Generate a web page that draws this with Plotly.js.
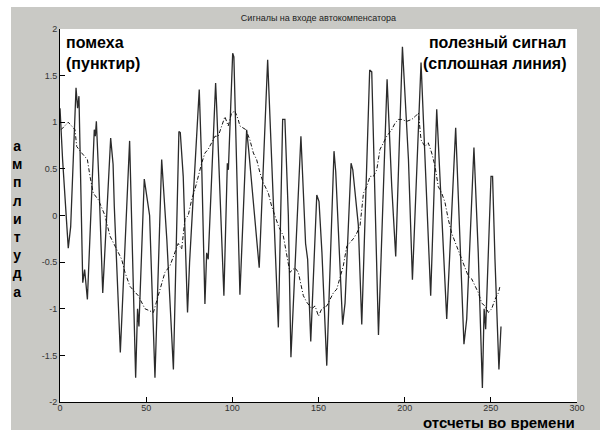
<!DOCTYPE html>
<html>
<head>
<meta charset="utf-8">
<script src="https://cdn.plot.ly/plotly-3.0.1.min.js"></script>
<style>
  html, body { margin: 0; padding: 0; background: #ffffff; width: 600px; height: 430px; overflow: hidden; }
  #chart { position: absolute; left: 11px; top: 7px; width: 589px; height: 423px; }
</style>
</head>
<body>
<div id="chart"></div>
<script>
// Полезный сигнал (сплошная линия): отсчёт и амплитуда
const signalX = [0, 1.5, 4.8, 6.2, 9.3, 10.2, 11, 13.2, 14.3, 15.9, 19.9, 20.5, 21.1, 22.5, 24.8, 29.4, 30.8, 31.5, 35, 40.4, 43.9, 45, 45.8, 48.9, 52, 55.1, 59, 62, 65.8, 69, 69.8, 71.5, 74, 75.2, 80.8, 82.2, 84.1, 85.1, 86, 90.3, 90.9, 95.1, 97.1, 97.7, 100.2, 100.9, 104.4, 108.3, 109.5, 115.6, 120.5, 126.7, 129.2, 130.5, 132.5, 134, 139.8, 142.5, 143.7, 145.5, 149, 150.3, 152, 154.8, 159, 160, 164, 165.4, 168.9, 169.9, 173.1, 175.1, 179.7, 180.9, 184.8, 189.8, 192.5, 194.8, 198.7, 202.2, 204.5, 209.5, 215.1, 218.6, 224.4, 229.6, 234.4, 236, 240.2, 242.7, 245.1, 246.1, 247, 250.1, 251, 252.4, 254.7, 255.9];
const signalY = [1.15, 0.6, -0.35, -0.12, 1.37, 1.15, 1.28, -0.72, -0.58, -0.9, 0.92, 0.85, 1.01, 0.4, -0.83, 0.83, 0.55, 0.1, -1.47, 0.8, -1.74, -1.0, -1.19, 0.39, 0.0, -1.74, 0.6, -0.26, -1.65, 0.9, 0.89, 0.42, -1.04, -0.5, 1.35, 0.56, -0.95, -0.4, -0.47, 1.42, 1.17, -0.86, 0.56, 0.49, 1.74, 1.7, -0.85, 0.92, 0.7, -0.56, 1.67, -1.2, 1.03, 1.03, 0.0, -1.52, 0.85, -0.3, -0.47, -1.35, 0.22, 0.15, -0.4, -1.61, 0.69, 0.47, -1.17, -0.94, 0.56, 0.49, -0.1, -1.17, 1.56, 1.54, -1.28, 1.46, 0.31, -0.44, 1.81, 0.6, -0.69, 1.64, -0.86, 1.14, -1.11, 0.94, -1.38, -1.11, 0.73, -0.4, -1.85, -1.0, -1.22, 0.42, 0.42, -0.47, -1.65, -1.19];

// Помеха (пунктир)
const noiseX = [0.6, 4.8, 8.7, 9.7, 12.6, 15.9, 17.4, 19.3, 22.2, 26.1, 29, 31.9, 35.8, 37.7, 40.6, 45.4, 49.3, 54.2, 57.1, 60.9, 63.8, 66.7, 68.6, 70.6, 72.5, 74.4, 76.4, 78.3, 80.2, 82.2, 84.1, 86, 88, 89.9, 91.8, 93.8, 95.7, 97.6, 99.6, 101.5, 103.4, 104.4, 107.9, 110.2, 112.2, 114.1, 116, 118, 120.9, 122.8, 124.7, 126.7, 129.6, 131.5, 133.4, 136.3, 138.3, 141.2, 143.2, 146.1, 148, 150, 151.9, 154.8, 156.7, 158.6, 160.6, 162.5, 164.4, 166.4, 168.3, 170.2, 172.2, 174.1, 176.1, 178, 179.9, 181.9, 183.8, 185.7, 187.7, 189.6, 192.5, 194.4, 196.4, 198.3, 201.2, 204.1, 206, 208, 209.5, 211.8, 213.7, 215.7, 217.6, 219.5, 221.5, 223.4, 225.3, 227.3, 230.2, 233.1, 235, 236.9, 238.9, 240.8, 242.8, 244.7, 246.6, 248.6, 250.5, 252.4, 254.4, 255.3];
const noiseY = [0.92, 1.0, 0.92, 0.74, 0.67, 0.6, 0.42, 0.24, 0.17, 0.0, -0.22, -0.33, -0.47, -0.61, -0.76, -0.86, -1.0, -1.04, -0.86, -0.61, -0.54, -0.4, -0.3, -0.36, -0.04, 0.0, 0.17, 0.28, 0.42, 0.56, 0.67, 0.71, 0.78, 0.85, 0.85, 0.96, 1.06, 0.96, 1.1, 1.12, 1.03, 0.96, 0.92, 0.81, 0.67, 0.6, 0.46, 0.35, 0.24, 0.1, 0.0, -0.11, -0.22, -0.4, -0.61, -0.56, -0.61, -0.86, -0.93, -1.0, -0.97, -1.08, -1.0, -0.97, -0.9, -0.83, -0.79, -0.65, -0.54, -0.33, -0.29, -0.25, -0.19, -0.11, 0.24, 0.31, 0.42, 0.42, 0.49, 0.71, 0.78, 0.85, 0.92, 0.99, 1.03, 1.03, 1.01, 1.03, 1.06, 1.1, 0.81, 0.74, 0.78, 0.67, 0.53, 0.31, 0.24, 0.14, -0.04, -0.19, -0.33, -0.47, -0.54, -0.65, -0.68, -0.76, -0.83, -0.94, -0.97, -1.04, -1.0, -0.9, -0.83, -0.76];

const xTickVals = [0, 50, 100, 150, 200, 250, 300];
const xTickText = ["0", "50", "100", "150", "200", "250", "300"];
const yTickVals = [-2, -1.5, -1, -0.5, 0, 0.5, 1, 1.5, 2];
const yTickText = ["-2", "-1.5", "-1", "-0.5", "0", "0.5", "1", "1.5", "2"];

const titleText = "Сигналы на входе автокомпенсатора";
const noiseLabel = "помеха<br>(пунктир)";
const signalLabel = "полезный сигнал<br>(сплошная линия)";
const yLabelWord = "амплитуда";
const xLabelText = "отсчеты во времени";

const FONT = "Arial, 'Liberation Sans', sans-serif";

const traces = [
  {
    x: signalX, y: signalY, type: "scatter", mode: "lines",
    line: { color: "#2b2b2b", width: 1.3 },
    hoverinfo: "skip", showlegend: false
  },
  {
    x: noiseX, y: noiseY, type: "scatter", mode: "lines",
    line: { color: "#111111", width: 1, dash: "4px,2px,1px,2px" },
    hoverinfo: "skip", showlegend: false
  }
];

const layout = {
  width: 589, height: 423,
  margin: { l: 49, r: 23, t: 22, b: 28 },
  paper_bgcolor: "#c9c9c5",
  plot_bgcolor: "#ffffff",
  showlegend: false,
  title: {
    text: titleText,
    font: { family: FONT, size: 9, color: "#222222" },
    x: 0.5, xref: "paper", xanchor: "center",
    y: 1 - 11 / 423, yref: "container", yanchor: "middle"
  },
  xaxis: {
    range: [0, 300], tickmode: "array", tickvals: xTickVals, ticktext: xTickText,
    ticks: "inside", ticklen: 5, tickcolor: "#000000", tickwidth: 1,
    ticklabelstandoff: -3,
    showline: true, linecolor: "#000000", linewidth: 1, mirror: false,
    showgrid: false, zeroline: false,
    tickfont: { family: FONT, size: 9, color: "#333333" }
  },
  yaxis: {
    range: [-2, 2], tickmode: "array", tickvals: yTickVals, ticktext: yTickText,
    ticks: "inside", ticklen: 5, tickcolor: "#000000", tickwidth: 1,
    showline: true, linecolor: "#000000", linewidth: 1, mirror: false,
    showgrid: false, zeroline: false,
    tickfont: { family: FONT, size: 9, color: "#333333" }
  },
  annotations: [
    {
      text: noiseLabel, xref: "paper", yref: "paper",
      x: 0.008, y: 0.992, xanchor: "left", yanchor: "top", align: "left",
      showarrow: false, font: { family: FONT, size: 16, color: "#000000", weight: "bold" }
    },
    {
      text: signalLabel, xref: "paper", yref: "paper",
      x: 0.983, y: 0.992, xanchor: "right", yanchor: "top", align: "right",
      showarrow: false, font: { family: FONT, size: 16, color: "#000000", weight: "bold" }
    },
    {
      text: yLabelWord.split("").join("<br>"), xref: "paper", yref: "paper",
      x: -0.083, y: 0.49, xanchor: "center", yanchor: "middle", align: "center",
      showarrow: false, font: { family: FONT, size: 14, color: "#000000", weight: "bold" }
    },
    {
      text: xLabelText, xref: "paper", yref: "paper",
      x: 1.0, y: -0.055, xanchor: "right", yanchor: "middle", align: "right",
      showarrow: false, font: { family: FONT, size: 15, color: "#000000", weight: "bold" }
    }
  ]
};

Plotly.newPlot("chart", traces, layout, { staticPlot: true, displayModeBar: false });
</script>
</body>
</html>
